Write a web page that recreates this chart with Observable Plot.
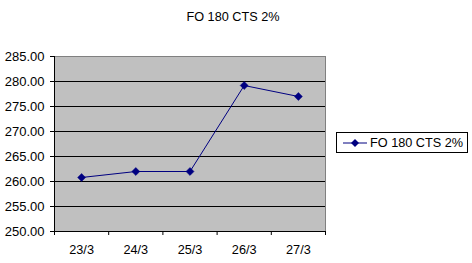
<!DOCTYPE html>
<html><head><meta charset="utf-8">
<script src="https://cdn.jsdelivr.net/npm/d3@7"></script>
<script src="https://cdn.jsdelivr.net/npm/@observablehq/plot@0.6"></script>
<style>
body{margin:0;background:#fff;font-family:"Liberation Sans",Arial,sans-serif;}
#wrap{position:relative;width:472px;height:263px;}
#title{position:absolute;left:0;width:466px;top:10px;text-align:center;font-size:12.7px;color:#000;}
#legend{position:absolute;left:336px;top:132px;width:132px;height:21px;border:1px solid #000;box-sizing:border-box;font-size:12.7px;display:flex;align-items:center;background:#fff;}
#legend svg{margin-left:6px;margin-right:3px;}
</style></head>
<body><div id="wrap"><div id="title"></div><div id="legend"></div></div>
<script>
const seriesName = "FO 180 CTS 2%";
const categories = ["23/3","24/3","25/3","26/3","27/3"];
const values = [260.8, 262.0, 262.0, 279.2, 277.0];
const yTicks = [250,255,260,265,270,275,280,285];

const data = categories.map((c,i)=>({i, c, v: values[i]}));
const bounds = d3.range(categories.length+1).map(i=>i-0.5);
const navy = "#000080";

const chart = Plot.plot({
  width: 472, height: 263,
  marginLeft: 54, marginRight: 147, marginTop: 56, marginBottom: 32,
  style: {fontFamily: "'Liberation Sans', Arial, sans-serif", fontSize: "12.7px", background: "transparent", color: "#000"},
  x: {type: "linear", domain: [-0.5, categories.length-0.5]},
  y: {domain: [250, 285]},
  marks: [
    Plot.frame({fill: "#C0C0C0", stroke: "#808080"}),
    Plot.ruleY(yTicks.slice(1,-1), {stroke: "#000", strokeWidth: 1}),
    Plot.ruleY([250], {stroke: "#000"}),
    Plot.ruleX([-0.5], {stroke: "#000"}),
    Plot.axisY({ticks: yTicks, tickSize: 4, tickPadding: 6, tickFormat: d => d.toFixed(2), label: null, stroke: "#000", fontSize: 13}),
    Plot.axisX({ticks: bounds, tickSize: 4, tickFormat: () => "", label: null, stroke: "#000"}),
    Plot.axisX({ticks: d3.range(categories.length), tickSize: 0, tickPadding: 13, tickFormat: i => categories[i], label: null}),
    Plot.line(data, {x: "i", y: "v", stroke: navy, strokeWidth: 1}),
    Plot.dot(data, {x: "i", y: "v", symbol: "diamond2", r: 3.6, fill: navy, stroke: navy, strokeWidth: 0.5})
  ]
});
document.getElementById("wrap").prepend(chart);
chart.style.position = "absolute"; chart.style.left = "0"; chart.style.top = "0";
document.getElementById("title").textContent = seriesName;
const lg = document.getElementById("legend");
lg.innerHTML = `<svg width="24" height="10"><line x1="0" y1="5" x2="24" y2="5" stroke="${navy}"/><path d="M12,1 L16,5 L12,9 L8,5 Z" fill="${navy}"/></svg><span></span>`;
lg.querySelector("span").textContent = seriesName;
</script></body></html>
